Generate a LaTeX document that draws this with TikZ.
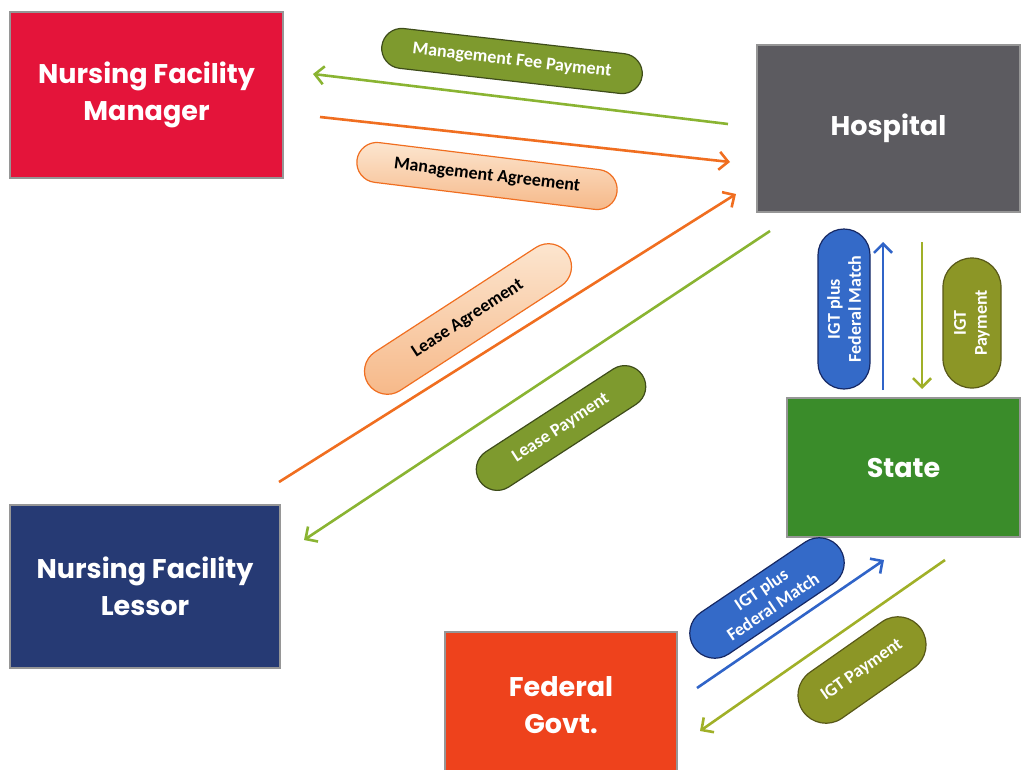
\documentclass[tikz,border=0pt]{standalone}
\usepackage{fontspec}
\newfontfamily\boxfont{Poppins}
\newfontfamily\pillfont{Carlito}
\usetikzlibrary{arrows.meta,shapes.misc}
\definecolor{mgrred}{RGB}{228,20,58}
\definecolor{hospgray}{RGB}{92,91,96}
\definecolor{stategreen}{RGB}{58,140,42}
\definecolor{lessorblue}{RGB}{38,58,116}
\definecolor{fedred}{RGB}{238,66,28}
\definecolor{rimgray}{RGB}{150,150,150}
\definecolor{arrgreen}{RGB}{138,180,50}
\definecolor{arrorange}{RGB}{240,110,32}
\definecolor{arrblue}{RGB}{48,100,200}
\definecolor{arrolive}{RGB}{160,176,40}
\definecolor{pillgreen}{RGB}{126,154,46}
\definecolor{pillgreenrim}{RGB}{62,76,26}
\definecolor{pillpeach}{RGB}{246,184,136}
\definecolor{pillpeachtop}{RGB}{252,230,208}
\definecolor{pillblue}{RGB}{52,106,200}
\definecolor{pillbluerim}{RGB}{22,40,100}
\definecolor{pillolive}{RGB}{140,150,38}
\definecolor{pillolivrim}{RGB}{88,88,24}

\begin{document}
\begin{tikzpicture}[x=1pt, y=-1pt,
		party/.style={draw=rimgray, line width=2.5pt, text=white, align=center,
			font=\boxfont\bfseries\fontsize{27}{37}\selectfont, inner sep=0pt},
		pill/.style={rounded rectangle, line width=1.2pt, align=center, inner sep=1pt,
			font=\pillfont\bfseries\fontsize{18}{21}\selectfont},
		flow/.style={line width=2.6pt, -{Straight Barb[length=9pt, width=18pt, line width=2.6pt]}}]
	\useasboundingbox (0, 0) rectangle (1023, 769);

	\node[party, fill=mgrred, minimum width=273, minimum height=166] (manager) at (146.5, 95) {Nursing Facility\\Manager};
	\node[party, fill=hospgray, minimum width=263, minimum height=167] (hospital) at (888.5, 128.5) {Hospital};
	\node[party, fill=stategreen, minimum width=233, minimum height=139] (state) at (903.5, 467.5) {State};
	\node[party, fill=lessorblue, minimum width=270, minimum height=163] (lessor) at (145, 586.5) {Nursing Facility\\Lessor};
	\node[party, fill=fedred, minimum width=232, minimum height=146] (federal) at (561, 705) {Federal\\Govt.};

	\coordinate (feeA) at (728, 124);
	\coordinate (feeB) at (313, 74);
	\coordinate (agrA) at (320, 117);
	\coordinate (agrB) at (730, 162);
	\coordinate (leaseA) at (279, 482);
	\coordinate (leaseB) at (736, 194);
	\coordinate (lpayA) at (770, 231);
	\coordinate (lpayB) at (304, 540);
	\coordinate (matchA) at (883, 390);
	\coordinate (matchB) at (883, 242);
	\coordinate (igtA) at (922, 242);
	\coordinate (igtB) at (922, 389);
	\coordinate (fmatchA) at (697, 688);
	\coordinate (fmatchB) at (884, 560);
	\coordinate (figtA) at (945, 560);
	\coordinate (figtB) at (700, 731);

	\draw[flow, arrgreen] (feeA) -- (feeB);
	\draw[flow, arrorange] (agrA) -- (agrB);
	\draw[flow, arrorange] (leaseA) -- (leaseB);
	\draw[flow, arrgreen] (lpayA) -- (lpayB);
	\draw[flow, arrblue] (matchA) -- (matchB);
	\draw[flow, arrolive] (igtA) -- (igtB);
	\draw[flow, arrblue] (fmatchA) -- (fmatchB);
	\draw[flow, arrolive] (figtA) -- (figtB);

	\node[pill, draw=pillgreenrim, fill=pillgreen, text=white, minimum width=264, minimum height=40, rotate=-6.5] (feepill) at (512, 61) {Management Fee Payment};
	\node[pill, draw=arrorange, top color=pillpeachtop, bottom color=pillpeach, minimum width=264, minimum height=40, rotate=-7] (agrpill) at (487, 176) {Management Agreement};
	\node[pill, draw=arrorange, top color=pillpeachtop, bottom color=pillpeach, minimum width=240, minimum height=46, rotate=33] (leasepill) at (468, 319) {Lease Agreement};
	\node[pill, draw=pillgreenrim, fill=pillgreen, text=white, minimum width=196, minimum height=42, rotate=33] (lpaypill) at (561, 428) {Lease Payment};
	\node[pill, draw=pillbluerim, fill=pillblue, text=white, minimum width=162, minimum height=52, rotate=90] (matchpill) at (844, 309) {IGT plus\\Federal Match};
	\node[pill, draw=pillolivrim, fill=pillolive, text=white, minimum width=132, minimum height=58, rotate=90] (igtpill) at (972, 323) {IGT\\Payment};
	\node[pill, draw=pillbluerim, fill=pillblue, text=white, minimum width=178, minimum height=50, rotate=34] (fmatchpill) at (767, 598) {IGT plus\\Federal Match};
	\node[pill, draw=pillolivrim, fill=pillolive, text=white, minimum width=146, minimum height=56, rotate=35] (figtpill) at (862, 670) {IGT Payment};
\end{tikzpicture}
\end{document}
